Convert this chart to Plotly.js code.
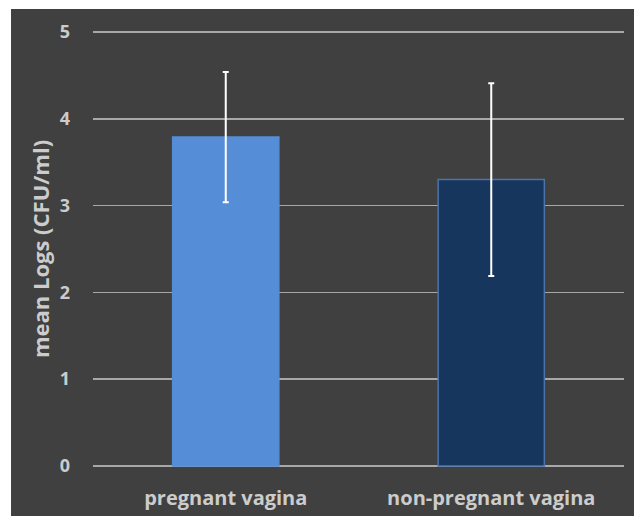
<!DOCTYPE html>
<html>
<head>
<meta charset="utf-8">
<script src="https://cdn.plot.ly/plotly-3.0.1.min.js"></script>
<style>html,body{margin:0;padding:0;background:#fff;}#chart{width:634px;height:516px;}</style>
</head>
<body>
<div id="chart"></div>
<script>
const categories = ["pregnant vagina", "non-pregnant vagina"];
const meanLogs = [3.79, 3.3];
const errorSD = [0.75, 1.11];
const barColors = ["#558dd6", "#17365d"];
const barLines = ["#558dd6", "#4a74aa"];
const yTicks = [0, 1, 2, 3, 4, 5];

const trace = {
  type: "bar",
  x: categories,
  y: meanLogs,
  width: 0.4,
  marker: { color: barColors, line: { color: barLines, width: 1.5 } },
  error_y: { type: "data", array: errorSD, visible: true, color: "#ffffff", thickness: 2, width: 3 },
  hoverinfo: "none"
};

const layout = {
  width: 634, height: 516,
  margin: { l: 93, r: 10, t: 31, b: 49 },
  paper_bgcolor: "#404040",
  plot_bgcolor: "#404040",
  showlegend: false,
  font: { family: "Open Sans, sans-serif", color: "#cccccc" },
  xaxis: {
    showgrid: false, zeroline: false, showline: false,
    tickfont: { size: 20, color: "#cccccc", weight: "bold" },
    ticklabelstandoff: 17
  },
  yaxis: {
    range: [-0.012, 5.012], tickvals: yTicks, ticktext: yTicks.map(String),
    showgrid: true, gridcolor: "#a8a8a8", gridwidth: 1.5,
    zeroline: false, showline: false,
    tickfont: { size: 18, color: "#cccccc", weight: "bold" },
    ticklabelstandoff: 22,
    title: { text: "mean Logs (CFU/ml)", font: { size: 22, color: "#cccccc", weight: "bold" }, standoff: 4 }
  },
  shapes: [
    { type: "rect", xref: "paper", yref: "paper", x0: -0.2, x1: -0.1544, y0: -0.2, y1: 1.2, fillcolor: "#ffffff", line: { width: 0 }, layer: "above" },
    { type: "rect", xref: "paper", yref: "paper", x0: -0.2, x1: 1.1, y0: 1.0507, y1: 1.2, fillcolor: "#ffffff", line: { width: 0 }, layer: "above" }
  ]
};

Plotly.newPlot("chart", [trace], layout, { displayModeBar: false, staticPlot: true });
</script>
</body>
</html>
